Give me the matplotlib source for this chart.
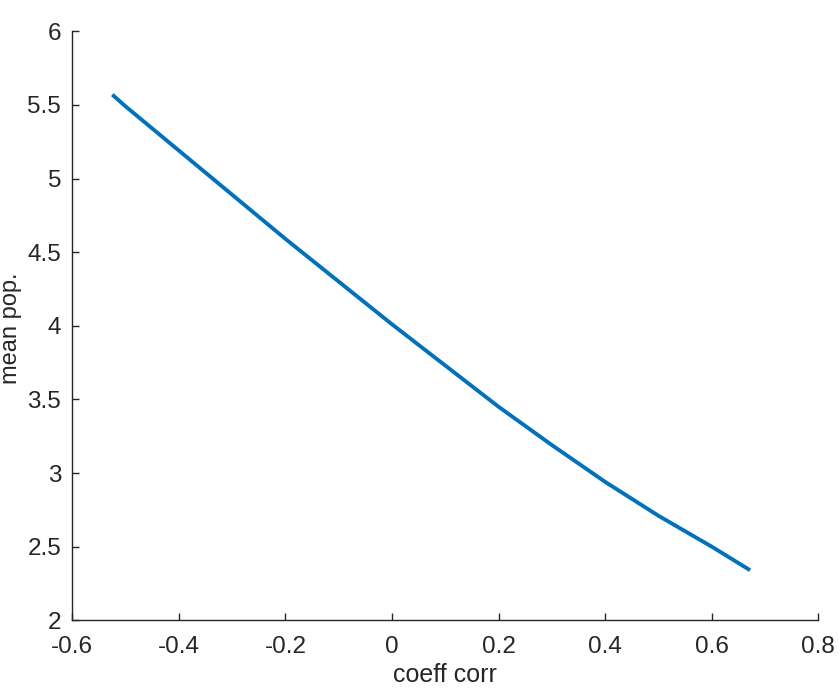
import matplotlib
matplotlib.use("Agg")
import matplotlib.pyplot as plt
import numpy as np

# values
coeff_corr = [-0.525, -0.5, -0.4, -0.3, -0.2, -0.1, 0.0, 0.1, 0.2, 0.3, 0.4, 0.5, 0.6, 0.672]
mean_pop = [5.57, 5.49, 5.19, 4.89, 4.59, 4.30, 4.01, 3.73, 3.45, 3.19, 2.94, 2.71, 2.50, 2.34]

plt.rcParams['font.family'] = ['Liberation Sans', 'DejaVu Sans']

fig = plt.figure(figsize=(8.39, 6.96), dpi=100)
ax = fig.add_axes([0.0862, 0.1088, 0.9753 - 0.0862, 0.955 - 0.1088])

ax.plot(coeff_corr, mean_pop, color='#0072BD', linewidth=2.8, solid_capstyle='butt')

ax.set_xlim(-0.6, 0.8)
ax.set_ylim(2, 6)
ax.set_xticks(np.arange(-0.6, 0.81, 0.2))
ax.set_xticklabels(['-0.6', '-0.4', '-0.2', '0', '0.2', '0.4', '0.6', '0.8'])
ax.set_yticks([2, 2.5, 3, 3.5, 4, 4.5, 5, 5.5, 6])
ax.set_yticklabels(['2', '2.5', '3', '3.5', '4', '4.5', '5', '5.5', '6'])

axis_col = '#262626'
for s in ['top', 'right']:
    ax.spines[s].set_visible(False)
for s in ['left', 'bottom']:
    ax.spines[s].set_color(axis_col)
    ax.spines[s].set_linewidth(1.0)
ax.tick_params(direction='in', length=5, width=1.0, colors=axis_col,
               labelsize=17.5)
ax.tick_params(axis='x', pad=11)
ax.tick_params(axis='y', pad=8)

ax.set_xlabel('coeff corr', fontsize=18, color=axis_col, labelpad=4)
# y label placed by hand so it sits at the left edge like the reference
fig.text(11 / 839, 1 - 328 / 696, 'mean pop.', fontsize=17, color=axis_col,
         rotation=90, ha='center', va='center')

fig.savefig('out.png', dpi=100)
